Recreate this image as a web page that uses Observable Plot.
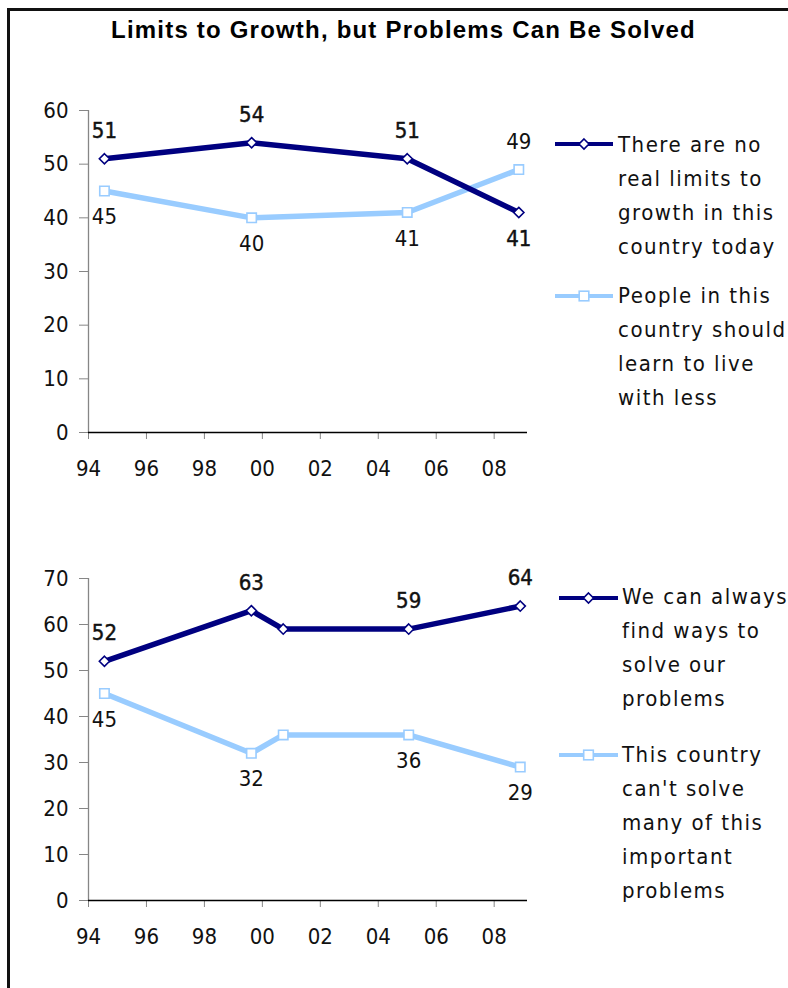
<!DOCTYPE html>
<html>
<head>
<meta charset="utf-8">
<script src="https://cdn.jsdelivr.net/npm/d3@7"></script>
<script src="https://cdn.jsdelivr.net/npm/@observablehq/plot@0.6"></script>
<style>
  html, body { margin: 0; padding: 0; background: #fff; }
  #page {
    position: relative; width: 788px; height: 988px; overflow: hidden;
    font-family: "DejaVu Sans Condensed", "DejaVu Sans", sans-serif;
    font-stretch: condensed; color: #111;
  }
  #frame {
    position: absolute; left: 7px; top: 8px; width: 820px; height: 1020px;
    border-left: 3px solid #111; border-top: 3px solid #111;
  }
  #title {
    position: absolute; left: 0; width: 807px; top: 16px; line-height: 24px;
    text-align: center; font: bold 24px "Liberation Sans", Arial, sans-serif;
    letter-spacing: 1.2px; color: #000; white-space: nowrap;
  }
  .chart { position: absolute; left: 0; }
  .swatch { position: absolute; overflow: visible; }
  .legend-text {
    position: absolute; font-size: 22px; line-height: 34px;
    letter-spacing: 1.5px; white-space: nowrap; color: #111;
  }
</style>
</head>
<body>
<div id="page">
  <div id="frame"></div>
  <div id="title">Limits to Growth, but Problems Can Be Solved</div>
</div>
<script>
// Survey waves (decimal years) and percentages
const topYears = [1994.55, 1999.63, 2005.0, 2008.85];
const noRealLimits = [51, 54, 51, 41];
const liveWithLess = [45, 40, 41, 49];

const bottomYears = [1994.55, 1999.62, 2000.72, 2005.05, 2008.9];
const canSolve = [52, 63, 59, 59, 64];
const cantSolve = [45, 32, 36, 36, 29];
const bottomLabelled = [true, true, false, true, true];

const xTicks = [1994, 1996, 1998, 2000, 2002, 2004, 2006, 2008];
const topYTicks = [0, 10, 20, 30, 40, 50, 60];
const bottomYTicks = [0, 10, 20, 30, 40, 50, 60, 70];

const topLegend = [
  ["There are no", "real limits to", "growth in this", "country today"],
  ["People in this", "country should", "learn to live", "with less"]
];
const bottomLegend = [
  ["We can always", "find ways to", "solve our", "problems"],
  ["This country", "can't solve", "many of this", "important", "problems"]
];

const DARK = "#000080";
const LIGHT = "#99CCFF";
const AXIS_GREY = "#868686";
const FONT = '"DejaVu Sans Condensed", "DejaVu Sans", sans-serif';
const X_END = 2009.15;

function rowsFor(years, own, other, labelled) {
  return years.map((year, i) => ({
    year,
    value: own[i],
    above: own[i] >= other[i],
    labelled: labelled ? labelled[i] : true
  }));
}

// Labels are placed above or below the point depending on which series is higher
function labelMarks(rows, bold) {
  const style = bold ? {fill: "#111", stroke: "#111", strokeWidth: 0.45} : {fill: "#111"};
  return [
    Plot.text(rows.filter(d => d.labelled && d.above), {x: "year", y: "value", text: d => String(d.value), dy: -28, fontSize: 22, ...style}),
    Plot.text(rows.filter(d => d.labelled && !d.above), {x: "year", y: "value", text: d => String(d.value), dy: 26, fontSize: 22, ...style})
  ];
}

function chart({years, dark, light, labelled, yMax, yTicks, marginTop, plotHeight}) {
  const darkRows = rowsFor(years, dark, light, labelled);
  const lightRows = rowsFor(years, light, dark, labelled);
  const marginBottom = 60;
  return Plot.plot({
    width: 540,
    height: marginTop + plotHeight + marginBottom,
    marginLeft: 88,
    marginRight: 13,
    marginTop,
    marginBottom,
    x: {domain: [1994, X_END]},
    y: {domain: [0, yMax]},
    style: {fontFamily: FONT, fontSize: "22px", background: "transparent", overflow: "visible", color: "#111"},
    marks: [
      Plot.ruleX([1994], {y1: 0, y2: yMax, stroke: AXIS_GREY, strokeWidth: 1.3}),
      Plot.axisY({ticks: yTicks, label: null, tickSize: 9, tickPadding: 11, stroke: AXIS_GREY, color: "#111", tickFormat: d => String(d)}),
      Plot.axisX({ticks: xTicks, label: null, tickSize: 7, tickPadding: 21, stroke: AXIS_GREY, color: "#111",
        tickFormat: d => String(d % 100).padStart(2, "0")}),
      Plot.ruleY([0], {x1: 1994, x2: X_END, stroke: "#000", strokeWidth: 1.3}),
      Plot.line(lightRows, {x: "year", y: "value", stroke: LIGHT, strokeWidth: 5.5}),
      Plot.line(darkRows, {x: "year", y: "value", stroke: DARK, strokeWidth: 5.5}),
      Plot.dot(lightRows, {x: "year", y: "value", symbol: "square", r: 5.3, fill: "white", stroke: LIGHT, strokeWidth: 1.6}),
      Plot.dot(darkRows, {x: "year", y: "value", symbol: "diamond2", r: 4.6, fill: "white", stroke: DARK, strokeWidth: 1.6}),
      ...labelMarks(darkRows, true),
      ...labelMarks(lightRows, false)
    ]
  });
}

function place(node, top) {
  node.classList.add("chart");
  node.style.top = top + "px";
  document.getElementById("page").appendChild(node);
}

// Upper panel: 60 sits at y=110, 0 at y=432
place(chart({years: topYears, dark: noRealLimits, light: liveWithLess, labelled: null,
  yMax: 60, yTicks: topYTicks, marginTop: 50, plotHeight: 322}), 60);

// Lower panel: 70 sits at y=578, 0 at y=900
place(chart({years: bottomYears, dark: canSolve, light: cantSolve, labelled: bottomLabelled,
  yMax: 70, yTicks: bottomYTicks, marginTop: 58, plotHeight: 322}), 520);

// Legend entries: a line swatch with its marker, followed by wrapped text
function legendItem({x0, x1, y, textLeft, baseline, color, symbol, lines}) {
  const page = document.getElementById("page");
  const w = x1 - x0, c = w / 2;
  const svg = d3.create("svg").attr("class", "swatch")
    .attr("width", w).attr("height", 16)
    .style("left", x0 + "px").style("top", (y - 8) + "px");
  svg.append("line").attr("x1", 0).attr("x2", w).attr("y1", 8).attr("y2", 8)
    .attr("stroke", color).attr("stroke-width", 4);
  if (symbol === "diamond") {
    svg.append("polygon")
      .attr("points", [[c, 3], [c + 5, 8], [c, 13], [c - 5, 8]].map(p => p.join(",")).join(" "))
      .attr("fill", "white").attr("stroke", color).attr("stroke-width", 1.6);
  } else {
    svg.append("rect").attr("x", c - 4.8).attr("y", 3.2).attr("width", 9.6).attr("height", 9.6)
      .attr("fill", "white").attr("stroke", color).attr("stroke-width", 1.6);
  }
  page.appendChild(svg.node());
  const div = document.createElement("div");
  div.className = "legend-text";
  div.style.left = textLeft + "px";
  div.style.top = (baseline - 25) + "px";
  lines.forEach((line, i) => {
    if (i) div.appendChild(document.createElement("br"));
    div.appendChild(document.createTextNode(line));
  });
  page.appendChild(div);
}

legendItem({x0: 555, x1: 613, y: 144, textLeft: 618, baseline: 153, color: DARK, symbol: "diamond", lines: topLegend[0]});
legendItem({x0: 555, x1: 613, y: 296, textLeft: 618, baseline: 304, color: LIGHT, symbol: "square", lines: topLegend[1]});
legendItem({x0: 559, x1: 618, y: 598, textLeft: 622, baseline: 605, color: DARK, symbol: "diamond", lines: bottomLegend[0]});
legendItem({x0: 559, x1: 618, y: 755, textLeft: 622, baseline: 763, color: LIGHT, symbol: "square", lines: bottomLegend[1]});
</script>
</body>
</html>
